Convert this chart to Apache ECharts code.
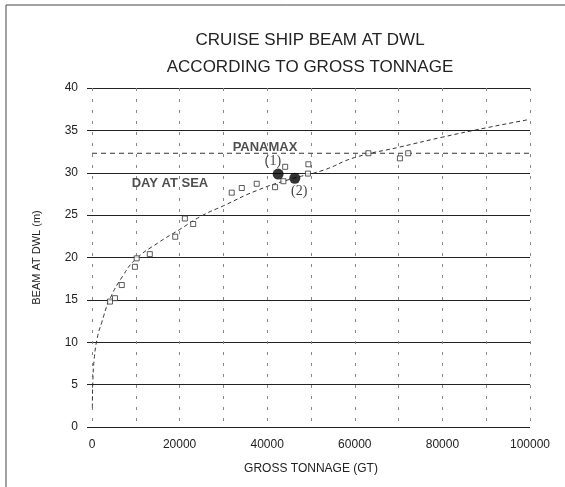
<!DOCTYPE html>
<html>
<head>
<meta charset="utf-8">
<script src="https://cdn.jsdelivr.net/npm/echarts@6/dist/echarts.min.js"></script>
<style>
  html, body { margin: 0; padding: 0; background: #fff; }
  #chart { width: 565px; height: 487px; }
</style>
</head>
<body>
<div id="chart"></div>
<script>
// ships: [gross tonnage, beam at DWL (m)]
const ships = [
  [4100, 14.8], [5250, 15.2], [6800, 16.75], [9800, 18.9], [10200, 19.9],
  [13200, 20.4], [19000, 22.45], [21200, 24.6], [23100, 23.95], [31900, 27.65],
  [34200, 28.2], [37600, 28.7], [41800, 28.3], [44100, 30.7], [43700, 29.0],
  [49400, 31.0], [49300, 29.9], [63100, 32.3], [70300, 31.7], [72200, 32.3]
];
// the two designs (1) and (2)
const designs = [[42500, 29.85], [46300, 29.35]];
const designLabels = ['(1)', '(2)'];
const designLabelPos = [[41300, 31.3], [47300, 27.85]];
// trend curve
const trend = [
  [80, 2.3], [200, 5.5], [500, 8], [1200, 10.5], [2200, 12.3], [4000, 15],
  [7000, 17.8], [10000, 19.8], [15000, 21.7], [20000, 23.3], [25000, 24.9],
  [30000, 26.1], [37600, 27.9], [45000, 29.2], [52800, 30.3], [60000, 31.8],
  [70000, 33.0], [80000, 34.2], [90000, 35.3], [100000, 36.3]
];
const panamaxBeam = 32.3;
const panamaxLabelAt = [39500, 33.0];
const dayAtSeaAt = [17800, 28.7];
const xTicks = [0, 20000, 40000, 60000, 80000, 100000];

const chart = echarts.init(document.getElementById('chart'));
const font = 'Liberation Sans, Arial, sans-serif';

const option = {
  animation: false,
  backgroundColor: '#fff',
  title: {
    text: 'CRUISE SHIP BEAM AT DWL\nACCORDING TO GROSS TONNAGE',
    left: 305,
    top: 22,
    textAlign: 'center',
    textStyle: { fontFamily: font, fontSize: 17, fontWeight: 'normal', color: '#222', lineHeight: 27 }
  },
  graphic: [
    { type: 'line', shape: { x1: 6, y1: 5, x2: 6, y2: 487 }, style: { stroke: '#444', lineWidth: 1 } },
    { type: 'line', shape: { x1: 6, y1: 5, x2: 565, y2: 5 }, style: { stroke: '#444', lineWidth: 1 } }
  ],
  grid: { left: 92, right: 35, top: 88, bottom: 60 },
  xAxis: {
    type: 'value', min: 0, max: 100000, interval: 10000,
    name: 'GROSS TONNAGE (GT)', nameLocation: 'middle', nameGap: 36,
    nameTextStyle: { fontFamily: font, fontSize: 12, color: '#222' },
    axisLine: { show: false }, axisTick: { show: false },
    axisLabel: {
      fontFamily: font, fontSize: 12, color: '#222', margin: 12,
      formatter: v => xTicks.includes(v) ? String(v) : ''
    },
    splitLine: { show: true, lineStyle: { color: '#888', type: [3, 8], width: 1 } }
  },
  yAxis: {
    type: 'value', min: 0, max: 40, interval: 5,
    name: 'BEAM AT DWL (m)', nameLocation: 'middle', nameGap: 50,
    nameTextStyle: { fontFamily: font, fontSize: 11, color: '#222' },
    axisLine: { show: false },
    axisTick: { show: true, length: 5, lineStyle: { color: '#222' } },
    axisLabel: { fontFamily: font, fontSize: 12, color: '#222', margin: 14 },
    splitLine: { show: true, lineStyle: { color: '#222', width: 1.2 } }
  },
  series: [
    {
      type: 'line', data: trend, symbol: 'none', smooth: true, z: 2,
      lineStyle: { color: '#333', width: 1, type: [4, 3] }
    },
    {
      type: 'line', data: [[0, panamaxBeam], [100000, panamaxBeam]], symbol: 'none', z: 2,
      lineStyle: { color: '#333', width: 1, type: [5, 4] }
    },
    {
      type: 'scatter', data: ships, symbol: 'rect', symbolSize: 5, z: 3,
      itemStyle: { color: '#fff', borderColor: '#333', borderWidth: 1 }
    },
    {
      type: 'scatter', data: designs, symbol: 'circle', symbolSize: 11, z: 4,
      itemStyle: { color: '#000' }
    },
    {
      type: 'scatter', symbolSize: 0, z: 5,
      data: designLabelPos.map((p, i) => ({ value: p, name: designLabels[i] })),
      label: {
        show: true, position: 'inside', formatter: '{b}',
        fontFamily: 'Liberation Serif, Times New Roman, serif', fontSize: 14, color: '#111'
      }
    },
    {
      type: 'scatter', symbolSize: 0, z: 5,
      data: [
        { value: panamaxLabelAt, name: 'PANAMAX' },
        { value: dayAtSeaAt, name: 'DAY AT SEA' }
      ],
      label: {
        show: true, position: 'inside', formatter: '{b}',
        fontFamily: font, fontSize: 13, fontWeight: 'bold', color: '#222'
      }
    }
  ]
};

chart.setOption(option);
</script>
</body>
</html>
